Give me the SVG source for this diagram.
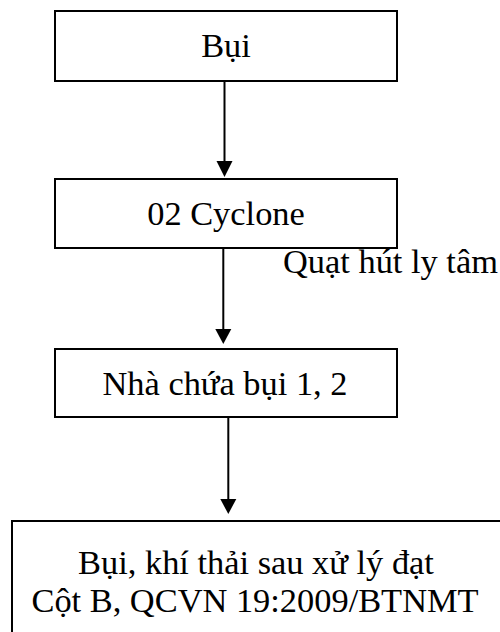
<svg xmlns="http://www.w3.org/2000/svg" width="500" height="632" viewBox="0 0 500 632">
<style>
.box{fill:#fff;stroke:#000;stroke-width:2}
.t{font-family:"Liberation Serif","Times New Roman",serif;font-size:34.4px;fill:#000}
.c{text-anchor:middle}
.ln{stroke:#000;stroke-width:2;fill:none}
</style>
<defs>
<marker id="ah" markerUnits="userSpaceOnUse" markerWidth="16" markerHeight="16" viewBox="0 0 16 16" refX="8" refY="15" orient="auto-start-reverse">
<path d="M0,0 L16,0 L8,15 Z" fill="#000"/>
</marker>
</defs>
<g id="connectors">
<path class="ln" d="M224.5,81 V161" />
<path d="M216.5,161 L232.5,161 L224.5,177 Z" fill="#000"/>
<path class="ln" d="M223.3,248 V329" />
<path d="M215.3,329 L231.3,329 L223.3,344 Z" fill="#000"/>
<path class="ln" d="M228.3,417 V499" />
<path d="M220.3,499 L236.3,499 L228.3,514 Z" fill="#000"/>
</g>
<g id="label-quat">
<text class="t" x="283" y="273">Quạt hút ly tâm</text>
</g>
<g id="node-bui">
<rect class="box" x="55" y="11" width="342" height="70"/>
<text class="t c" x="226" y="57">Bụi</text>
</g>
<g id="node-cyclone">
<rect class="box" x="55" y="179" width="342" height="69"/>
<text class="t c" x="226" y="225">02 Cyclone</text>
</g>
<g id="node-nha-chua">
<rect class="box" x="55" y="349" width="342" height="68"/>
<text class="t c" x="225" y="395">Nhà chứa bụi 1, 2</text>
</g>
<g id="node-output">
<rect class="box" x="12" y="521" width="500" height="130"/>
<text class="t c" x="256" y="574">Bụi, khí thải sau xử lý đạt</text>
<text class="t c" x="255" y="612">Cột B, QCVN 19:2009/BTNMT</text>
</g>
</svg>
